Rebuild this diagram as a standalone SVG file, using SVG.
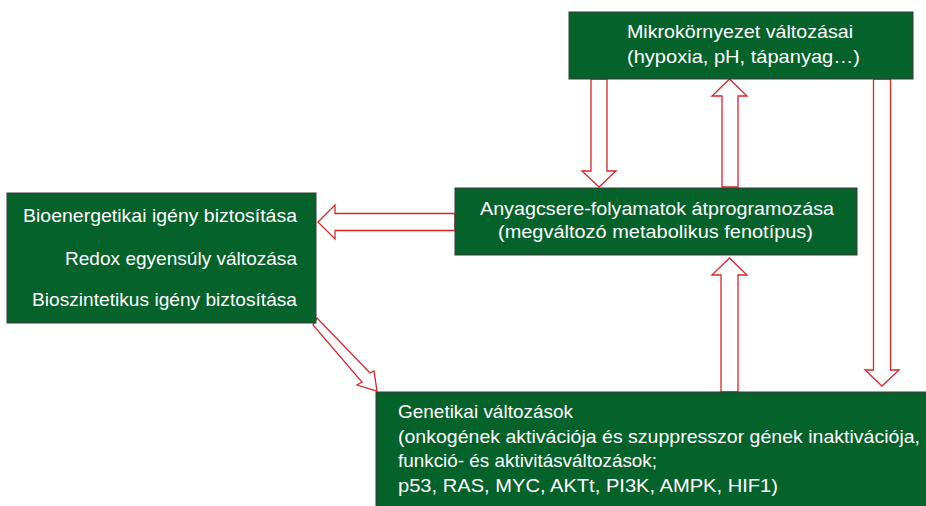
<svg xmlns="http://www.w3.org/2000/svg" width="926" height="506" viewBox="0 0 926 506">
<style>
.box{fill:#05622a;stroke:#3a3a3a;stroke-width:1}
.t{font-family:"Liberation Sans",Arial,sans-serif;font-size:19px;fill:#ffffff}
.arr{fill:#ffffff;stroke:#d9262b;stroke-width:1.3;stroke-linejoin:miter}
</style>
<rect width="926" height="506" fill="#ffffff"/>
<g id="connectors">
<polygon class="arr" points="591,79 607,79 607,171 616,171 599,187 582,171 591,171"/>
<polygon class="arr" points="722,187 738,187 738,96 747,96 729.5,79 712,96 722,96"/>
<polygon class="arr" points="873.5,79 890.5,79 890.5,370 899,370 882,386 865,370 873.5,370"/>
<polygon class="arr" points="721,392 738,392 738,275 747,275 729.5,258 712,275 721,275"/>
<polygon class="arr" points="455,213.5 335,213.5 335,205 318,222 335,239 335,230.5 455,230.5"/>
<polygon class="arr" points="317,318 370,373 374,371 377,391 357,385 362,382 313,325"/>
</g>
<g id="node-mikro">
<rect class="box" x="569" y="12" width="344" height="67"/>
<text class="t" x="627" y="38" textLength="226" lengthAdjust="spacingAndGlyphs">Mikrokörnyezet változásai</text>
<text class="t" x="627" y="63" textLength="233" lengthAdjust="spacingAndGlyphs">(hypoxia, pH, tápanyag…)</text>
</g>
<g id="node-anyagcsere">
<rect class="box" x="455" y="188" width="402" height="67"/>
<text class="t" x="480" y="215" textLength="354" lengthAdjust="spacingAndGlyphs">Anyagcsere-folyamatok átprogramozása</text>
<text class="t" x="498" y="238" textLength="315" lengthAdjust="spacingAndGlyphs">(megváltozó metabolikus fenotípus)</text>
</g>
<g id="node-igenyek">
<rect class="box" x="7" y="193" width="309" height="130"/>
<text class="t" x="23" y="222" textLength="274" lengthAdjust="spacingAndGlyphs">Bioenergetikai igény biztosítása</text>
<text class="t" x="65" y="265" textLength="232" lengthAdjust="spacingAndGlyphs">Redox egyensúly változása</text>
<text class="t" x="32" y="306" textLength="265" lengthAdjust="spacingAndGlyphs">Bioszintetikus igény biztosítása</text>
</g>
<g id="node-genetikai">
<rect class="box" x="376" y="392" width="560" height="124"/>
<text class="t" x="398" y="418" textLength="175" lengthAdjust="spacingAndGlyphs">Genetikai változások</text>
<text class="t" x="398" y="443" textLength="522" lengthAdjust="spacingAndGlyphs">(onkogének aktivációja és szuppresszor gének inaktivációja,</text>
<text class="t" x="398" y="467" textLength="259" lengthAdjust="spacingAndGlyphs">funkció- és aktivitásváltozások;</text>
<text class="t" x="398" y="492" textLength="380" lengthAdjust="spacingAndGlyphs">p53, RAS, MYC, AKTt, PI3K, AMPK, HIF1)</text>
</g>
</svg>
